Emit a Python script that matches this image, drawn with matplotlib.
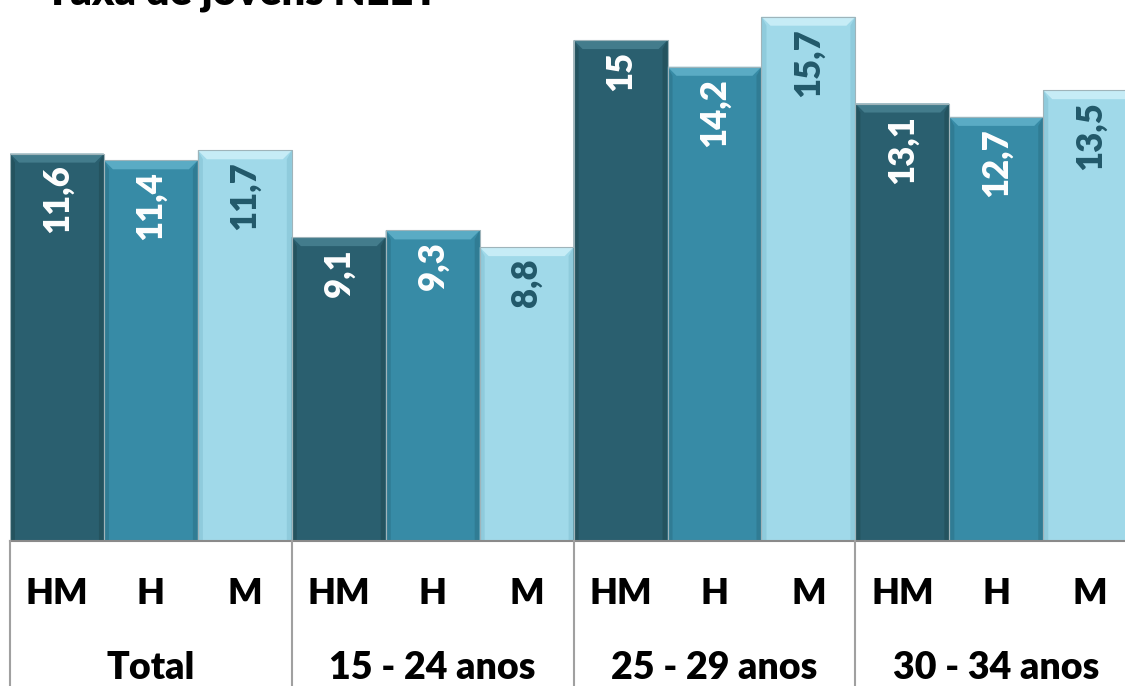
import matplotlib.pyplot as plt
from matplotlib.patches import Polygon
import numpy as np

plt.rcParams['font.family'] = ['Lato', 'DejaVu Sans']

groups = ['Total', '15 - 24 anos', '25 - 29 anos', '30 - 34 anos']
series = ['HM', 'H', 'M']
hm = [11.6, 9.1, 15.0, 13.1]
h = [11.4, 9.3, 14.2, 12.7]
m = [11.7, 8.8, 15.7, 13.5]
labels = ['11,6', '11,4', '11,7', '9,1', '9,3', '8,8',
          '15', '14,2', '15,7', '13,1', '12,7', '13,5']

colors = {'HM': '#2a5f6f', 'H': '#378ba6', 'M': '#a0d9e9'}
tops = {'HM': '#437c8c', 'H': '#5aabc4', 'M': '#c6ecf6'}
sides = {'HM': '#24535f', 'H': '#307c94', 'M': '#8fcbdc'}
text_col = {'HM': 'white', 'H': 'white', 'M': '#22596a'}

W, H_ = 1125, 686
fig = plt.figure(figsize=(W / 100, H_ / 100), dpi=100)
ax = fig.add_axes([10 / W, 145 / H_, 1 - 10 / W, 541 / H_])

values = []
names = []
for i in range(len(groups)):
    for s, v in zip(series, (hm[i], h[i], m[i])):
        values.append(v)
        names.append(s)
x = np.arange(len(values))

ax.set_xlim(-0.5, 11.37)
ax.set_ylim(0, 16.2)

bars = ax.bar(x, values, width=1.0, color=[colors[n] for n in names],
              edgecolor='none', zorder=2)

# bevel: pixel sizes converted to data units
px_x = (11.37 + 0.5) / (W - 10)
px_y = 16.2 / 541
bev = 9
for b, n in zip(bars, names):
    x0, y1 = b.get_x(), b.get_height()
    x1 = x0 + b.get_width()
    dx, dy = bev * px_x, bev * px_y
    sx = 5 * px_x
    ax.add_patch(Polygon([(x0, y1), (x1, y1), (x1 - dx, y1 - dy), (x0 + dx, y1 - dy)],
                         closed=True, color=tops[n], lw=0, zorder=3))
    ax.add_patch(Polygon([(x0, y1), (x0 + sx, y1 - dy), (x0 + sx, 0), (x0, 0)],
                         closed=True, color=sides[n], lw=0, zorder=3))
    ax.add_patch(Polygon([(x1, y1), (x1 - sx, y1 - dy), (x1 - sx, 0), (x1, 0)],
                         closed=True, color=sides[n], lw=0, zorder=3))
    ax.plot([x0, x1, x1, x0, x0], [0, 0, y1, y1, 0], color='#9fb4ba', lw=0.8, zorder=4)

for b, n, lab in zip(bars, names, labels):
    ax.annotate(lab, (b.get_x() + b.get_width() / 2, b.get_height()),
                xytext=(0, -8), textcoords='offset points', rotation=90,
                ha='center', va='top', fontsize=25, fontweight='heavy',
                color=text_col[n], zorder=5)

for s in ax.spines.values():
    s.set_visible(False)
ax.set_xticks([])
ax.set_yticks([])
ax.axhline(0, color='#8a8a8a', lw=1.5, zorder=6, clip_on=False)

# category table under the bars
for g in range(len(groups) + 1):
    ax.plot([3 * g - 0.5, 3 * g - 0.5], [0, -145 * px_y], color='#a0a0a0', lw=1.5,
            clip_on=False, zorder=6)
for i, n in enumerate(names):
    ax.text(x[i], -52 * px_y, n, ha='center', va='center', fontsize=26,
            fontweight='heavy', color='black', clip_on=False)
for g, name in enumerate(groups):
    ax.text(3 * g + 1, -127 * px_y, name, ha='center', va='center', fontsize=27,
            fontweight='heavy', color='black', clip_on=False)

fig.text(45 / W, 1 - 4 / H_, 'Taxa de jovens NEET', ha='left', va='baseline',
         fontsize=30, fontweight='heavy', color='black')

fig.savefig('out.png', dpi=100)
